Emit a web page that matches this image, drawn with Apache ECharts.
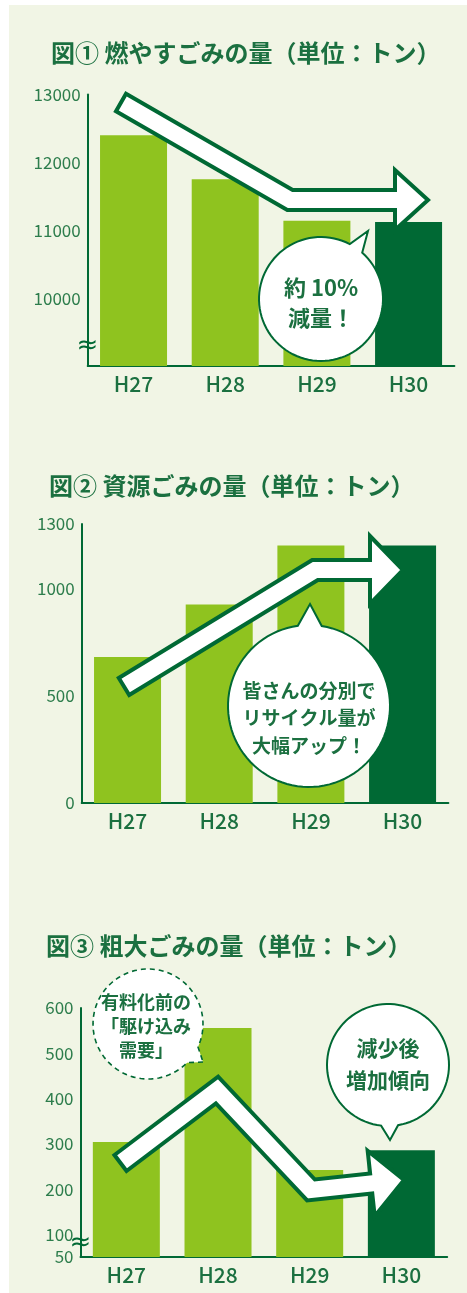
<!DOCTYPE html>
<html>
<head>
<meta charset="utf-8">
<script src="https://cdn.jsdelivr.net/npm/echarts@6/dist/echarts.min.js"></script>
<style>
  html, body { margin: 0; padding: 0; background: #ffffff; }
  #chart { width: 467px; height: 1293px; }
</style>
</head>
<body>
<div id="chart"></div>
<script>
// データ
const years = ['H27', 'H28', 'H29', 'H30'];
const burnable = [12400, 11750, 11140, 11120];   // 燃やすごみ
const recyclable = [680, 925, 1200, 1200];       // 資源ごみ
const bulky = [304, 556, 242, 286];              // 粗大ごみ
const burnTicks = [10000, 11000, 12000, 13000];
const recycleTicks = [0, 500, 1000, 1300];
const bulkyTicks = [50, 100, 200, 300, 400, 500, 600];

const FONT = '"Noto Sans CJK JP", "Noto Sans", sans-serif';
const LIGHT = '#8fc31f';
const DARK = '#006934';
const TEXT = '#1b7040';
const LABEL = '#2d7d4c';
const BG = '#f1f5e5';

const myChart = echarts.init(document.getElementById('chart'));

// 矢印の多角形（中心線から作る）
function arrowShape(pts, hw, headLen, headHw) {
  const n = pts.length;
  const tip = pts[n - 1], prev = pts[n - 2];
  const l0 = Math.hypot(tip[0] - prev[0], tip[1] - prev[1]);
  const ux = (tip[0] - prev[0]) / l0, uy = (tip[1] - prev[1]) / l0;
  const base = [tip[0] - ux * headLen, tip[1] - uy * headLen];
  const line = pts.slice(0, n - 1).concat([base]);
  const segN = (a, b) => {
    const dx = b[0] - a[0], dy = b[1] - a[1], l = Math.hypot(dx, dy);
    return [-dy / l, dx / l];
  };
  const left = [], right = [];
  for (let i = 0; i < line.length; i++) {
    let nx, ny, s = hw;
    if (i === 0) { [nx, ny] = segN(line[0], line[1]); }
    else if (i === line.length - 1) { [nx, ny] = segN(line[i - 1], line[i]); }
    else {
      const a = segN(line[i - 1], line[i]), b = segN(line[i], line[i + 1]);
      const mx = a[0] + b[0], my = a[1] + b[1], ml = Math.hypot(mx, my);
      nx = mx / ml; ny = my / ml;
      s = hw / (nx * a[0] + ny * a[1]);
    }
    left.push([line[i][0] + nx * s, line[i][1] + ny * s]);
    right.push([line[i][0] - nx * s, line[i][1] - ny * s]);
  }
  const nn = [-uy, ux];
  const points = left.concat([
    [base[0] + nn[0] * headHw, base[1] + nn[1] * headHw],
    tip,
    [base[0] - nn[0] * headHw, base[1] - nn[1] * headHw]
  ]).concat(right.reverse());
  return {
    type: 'polygon',
    z: 100,
    shape: { points: points },
    style: { fill: '#ffffff', stroke: DARK, lineWidth: 4, lineJoin: 'miter' }
  };
}

// 吹き出し（円＋しっぽ）
function bubbleShape(cx, cy, r, tip, halfDeg, dashed) {
  const th = Math.atan2(tip[1] - cy, tip[0] - cx);
  const d = halfDeg * Math.PI / 180;
  const points = [tip];
  const steps = 90;
  for (let i = 0; i <= steps; i++) {
    const a = th + d + (2 * Math.PI - 2 * d) * i / steps;
    points.push([cx + r * Math.cos(a), cy + r * Math.sin(a)]);
  }
  return {
    type: 'polygon',
    z: 110,
    shape: { points: points },
    style: {
      fill: '#ffffff', stroke: DARK, lineWidth: dashed ? 1.6 : 2,
      lineDash: dashed ? [5, 4] : null
    }
  };
}

function bubbleText(x, y, text, size, lh) {
  return {
    type: 'text',
    z: 120,
    x: x, y: y,
    style: {
      text: text, fill: TEXT, font: 'bold ' + size + 'px ' + FONT,
      align: 'center', verticalAlign: 'middle', lineHeight: lh
    }
  };
}

function breakMark(x, y) {
  return {
    type: 'text', z: 90, x: x, y: y,
    style: { text: '≈', fill: DARK, font: '26px "DejaVu Sans", sans-serif', align: 'center', verticalAlign: 'middle' }
  };
}

function xAxisOf(idx) {
  return {
    type: 'category',
    gridIndex: idx,
    data: years,
    axisLine: { show: true, onZero: false, lineStyle: { color: DARK, width: 2 } },
    axisTick: { show: false },
    axisLabel: { color: TEXT, fontSize: 21, fontFamily: FONT, fontWeight: 500, margin: 8 }
  };
}

function yAxisOf(idx, min, max, interval, ticks) {
  return {
    type: 'value',
    gridIndex: idx,
    min: min, max: max, interval: interval,
    axisLine: { show: true, lineStyle: { color: DARK, width: 2 } },
    axisTick: { show: false },
    splitLine: { show: false },
    axisLabel: {
      color: LABEL, fontSize: 17, fontFamily: FONT, margin: 7,
      showMinLabel: true, showMaxLabel: true,
      formatter: function (v) { return ticks.indexOf(v) >= 0 ? String(v) : ''; }
    }
  };
}

function barOf(idx, values) {
  return {
    type: 'bar',
    xAxisIndex: idx, yAxisIndex: idx,
    barWidth: 67,
    data: values,
    itemStyle: { color: function (p) { return p.dataIndex === 3 ? DARK : LIGHT; } },
    z: 2
  };
}

const titleStyle = { fontSize: 24, fontWeight: 'bold', color: TEXT, fontFamily: FONT, lineHeight: 27 };

var option = {
  backgroundColor: '#ffffff',
  animation: false,
  title: [
    { text: '図① 燃やすごみの量（単位：トン）', left: 51, top: 39, padding: 0, textStyle: titleStyle },
    { text: '図② 資源ごみの量（単位：トン）', left: 49, top: 472, padding: 0, textStyle: titleStyle },
    { text: '図③ 粗大ごみの量（単位：トン）', left: 46, top: 932, padding: 0, textStyle: titleStyle }
  ],
  grid: [
    { left: 87.7, top: 94.5, width: 366.7, height: 271.5, outerBoundsMode: 'none' },
    { left: 81.7, top: 524, width: 366.7, height: 279, outerBoundsMode: 'none' },
    { left: 80.5, top: 1008, width: 366.7, height: 249, outerBoundsMode: 'none' }
  ],
  xAxis: [xAxisOf(0), xAxisOf(1), xAxisOf(2)],
  yAxis: [
    yAxisOf(0, 9000, 13000, 1000, burnTicks),
    yAxisOf(1, 0, 1300, 100, recycleTicks),
    yAxisOf(2, 50, 600, 50, bulkyTicks)
  ],
  series: [barOf(0, burnable), barOf(1, recyclable), barOf(2, bulky)],
  graphic: [
    {
      type: 'rect', z: -10, silent: true,
      shape: { x: 9, y: 5, width: 458, height: 1288 },
      style: { fill: BG }
    },
    breakMark(87.5, 346),
    breakMark(80.5, 1243),
    // 図①
    arrowShape([[121, 102.5], [290, 200], [428, 200]], 10, 33, 30),
    bubbleShape(321, 299, 62, [368, 231], 7),
    bubbleText(321, 303, '約 10%\n減量！', 22, 30),
    // 図②
    arrowShape([[124, 686.5], [315, 570], [403, 570]], 10, 33, 34),
    bubbleShape(309, 706, 81, [310, 604], 8.5),
    bubbleText(309, 718, '皆さんの分別で\nリサイクル量が\n大幅アップ！', 19, 27.5),
    // 図③
    arrowShape([[120.5, 1163], [217, 1090], [311, 1190], [404, 1180]], 10, 33, 33),
    bubbleShape(148, 1024, 55, [203, 1062], 10, true),
    bubbleText(146, 1026, '有料化前の\n「駆け込み\n需要」', 18, 24),
    bubbleShape(388, 1065, 61, [390, 1140], 8),
    bubbleText(388, 1064, '減少後\n増加傾向', 21, 32)
  ]
};

myChart.setOption(option);
</script>
</body>
</html>
